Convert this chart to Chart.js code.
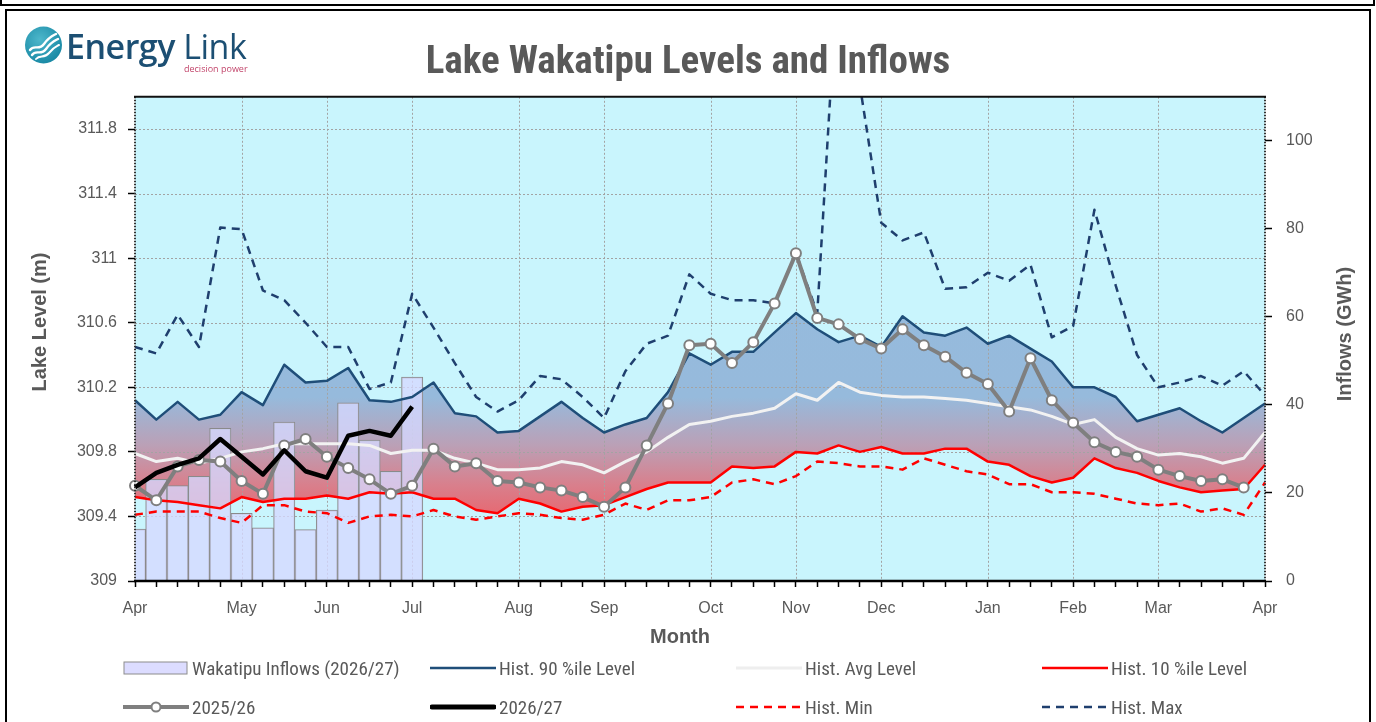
<!DOCTYPE html>
<html lang="en">
<head>
<meta charset="UTF-8">
<title>Lake Wakatipu Levels and Inflows</title>
<script src="https://cdn.jsdelivr.net/npm/chart.js@4.4.1/dist/chart.umd.min.js"></script>
<style>
  body { margin: 0; background: #fff; width: 1376px; height: 722px; overflow: hidden; position: relative; }
  .box-top { position: absolute; left: 0; top: -10px; width: 1371px; height: 12px; border: 2px solid #000; }
  .box { position: absolute; left: 5px; top: 9px; width: 1362px; height: 740px; border: 2px solid #000; }
  #chart { position: absolute; left: 0; top: 0; z-index: 2; }
  .logo { position: absolute; left: 24px; top: 25px; z-index: 3; }
  .logo-text { position: absolute; left: 66px; top: 23px; font-family: "Open Sans", sans-serif; font-size: 34px; color: #1c4f73; letter-spacing: -0.5px; white-space: nowrap; z-index: 3; }
  .logo-text b { font-weight: 600; }
  .logo-sub { position: absolute; left: 184px; top: 62px; font-family: "Open Sans", sans-serif; font-size: 9px; color: #c2456b; z-index: 3; }
  .legend-item { position: absolute; height: 20px; display: flex; align-items: center; z-index: 3;
    font-family: "Liberation Sans Narrow", "Roboto Condensed", Roboto, sans-serif; font-size: 19px; color: #595959; white-space: nowrap; }
  .legend-item svg { margin-right: 3px; flex: none; }
</style>
</head>
<body>
<div class="box-top"></div>
<div class="box"></div>

<svg class="logo" width="40" height="40" viewBox="0 0 40 40">
  <defs>
    <radialGradient id="lg" cx="40%" cy="35%" r="70%">
      <stop offset="0" stop-color="#4db7cb"/>
      <stop offset="1" stop-color="#1787a3"/>
    </radialGradient>
  </defs>
  <circle cx="19.5" cy="20" r="18.5" fill="url(#lg)"/>
  <path d="M6 25 C10 19, 15 26, 20 19 S28 11, 32 9" stroke="#fff" stroke-width="2.4" fill="none" stroke-linecap="round"/>
  <path d="M8 30 C12 24, 17 31, 22 24 S30 16, 34 14" stroke="#fff" stroke-width="2.4" fill="none" stroke-linecap="round"/>
  <path d="M12 34 C16 29, 20 34, 25 28 S31 22, 35 20" stroke="#fff" stroke-width="2" fill="none" stroke-linecap="round"/>
</svg>
<div class="logo-text"><b>Energy</b> Link</div>
<div class="logo-sub">decision power</div>

<canvas id="chart" width="1376" height="722"></canvas>

<div class="legend-item" style="left:123px;top:658px">
  <svg width="66" height="20"><rect x="1" y="4" width="63" height="12" fill="#dcdcff" stroke="#8c8c8c" stroke-width="1"/></svg>
  <span>Wakatipu Inflows (2026/27)</span>
</div>
<div class="legend-item" style="left:430px;top:658px">
  <svg width="66" height="20"><line x1="0" y1="10" x2="66" y2="10" stroke="#1f4e79" stroke-width="2.5"/></svg>
  <span>Hist. 90 %ile Level</span>
</div>
<div class="legend-item" style="left:736px;top:658px">
  <svg width="66" height="20"><line x1="0" y1="10" x2="66" y2="10" stroke="#eeeeee" stroke-width="3"/></svg>
  <span>Hist. Avg Level</span>
</div>
<div class="legend-item" style="left:1042px;top:658px">
  <svg width="66" height="20"><line x1="0" y1="10" x2="66" y2="10" stroke="#ff0000" stroke-width="2.5"/></svg>
  <span>Hist. 10 %ile Level</span>
</div>
<div class="legend-item" style="left:123px;top:697px">
  <svg width="66" height="20"><line x1="0" y1="10" x2="66" y2="10" stroke="#7f7f7f" stroke-width="4"/><circle cx="33" cy="10" r="4.5" fill="#fff" stroke="#7f7f7f" stroke-width="2"/></svg>
  <span>2025/26</span>
</div>
<div class="legend-item" style="left:430px;top:697px">
  <svg width="66" height="20"><line x1="2" y1="10" x2="64" y2="10" stroke="#000" stroke-width="5" stroke-linecap="round"/></svg>
  <span>2026/27</span>
</div>
<div class="legend-item" style="left:736px;top:697px">
  <svg width="66" height="20"><line x1="0" y1="10" x2="66" y2="10" stroke="#ff0000" stroke-width="2.5" stroke-dasharray="8 6"/></svg>
  <span>Hist. Min</span>
</div>
<div class="legend-item" style="left:1042px;top:697px">
  <svg width="66" height="20"><line x1="0" y1="10" x2="66" y2="10" stroke="#1f3f6e" stroke-width="2.5" stroke-dasharray="8 6"/></svg>
  <span>Hist. Max</span>
</div>

<script>
// weekly points, Apr to Apr
const monthNames = ['Apr', 'May', 'Jun', 'Jul', 'Aug', 'Sep', 'Oct', 'Nov', 'Dec', 'Jan', 'Feb', 'Mar', 'Apr'];
const monthWeek = [0, 5, 9, 13, 18, 22, 27, 31, 35, 40, 44, 48, 53];
const weekCount = 54;

const levelTicks = [309, 309.4, 309.8, 310.2, 310.6, 311, 311.4, 311.8];
const inflowTicks = [0, 20, 40, 60, 80, 100];

const inflows = [11.8, 23.1, 21.7, 23.8, 34.7, 15.4, 12.1, 36.1, 11.7, 16.1, 40.5, 32.0, 24.9, 46.3];

const level2627 = [309.58, 309.67, 309.72, 309.76, 309.88, 309.77, 309.66, 309.81, 309.68, 309.64, 309.90, 309.93, 309.90, 310.08];

const level2526 = [309.59, 309.50, 309.71, 309.75, 309.74, 309.62, 309.54, 309.84, 309.88, 309.77, 309.70, 309.63, 309.54, 309.59, 309.82, 309.71,
  309.73, 309.62, 309.61, 309.58, 309.56, 309.52, 309.46, 309.58, 309.84, 310.10, 310.46, 310.47, 310.35, 310.48, 310.72, 311.03, 310.63, 310.59,
  310.50, 310.44, 310.56, 310.46, 310.39, 310.29, 310.22, 310.05, 310.38, 310.12, 309.98, 309.86, 309.80, 309.77, 309.69, 309.65, 309.62, 309.63, 309.58, null];

const hist90 = [310.12, 310.00, 310.11, 310.00, 310.03, 310.17, 310.09, 310.34, 310.23, 310.24, 310.32, 310.12, 310.11, 310.14, 310.23, 310.04,
  310.02, 309.92, 309.93, 310.02, 310.11, 310.01, 309.92, 309.97, 310.01, 310.17, 310.41, 310.34, 310.42, 310.42,
  310.54, 310.66, 310.56, 310.48, 310.52, 310.45, 310.64, 310.54, 310.52, 310.57, 310.47,
  310.52, 310.44, 310.36, 310.20, 310.20, 310.14, 309.99, 310.03, 310.07, 309.99, 309.92, 310.01, 310.10];

const histAvg = [309.79, 309.74, 309.76, 309.73, 309.76, 309.80, 309.82, 309.85, 309.85, 309.85, 309.85, 309.84, 309.79, 309.81, 309.81, 309.76,
  309.73, 309.69, 309.69, 309.70, 309.74, 309.72, 309.67, 309.74, 309.80, 309.89, 309.97, 309.99, 310.02, 310.04, 310.07, 310.16, 310.12, 310.23,
  310.17, 310.15, 310.14, 310.14, 310.13, 310.12, 310.10, 310.08, 310.06, 310.02, 309.97, 310.00, 309.89, 309.82, 309.78, 309.79, 309.77, 309.73, 309.76, 309.92];

const hist10 = [309.52, 309.50, 309.49, 309.47, 309.45, 309.52, 309.49, 309.51, 309.51, 309.53, 309.51, 309.55, 309.54, 309.55, 309.51, 309.51,
  309.44, 309.42, 309.51, 309.48, 309.43, 309.46, 309.47, 309.52, 309.57, 309.61, 309.61, 309.61, 309.71, 309.70, 309.71, 309.80, 309.79, 309.84,
  309.80, 309.83, 309.79, 309.79, 309.82, 309.82, 309.74, 309.72, 309.65, 309.61, 309.64, 309.76, 309.70, 309.67, 309.62, 309.58, 309.55, 309.56, 309.57, 309.72];

const histMin = [309.41, 309.43, 309.43, 309.43, 309.39, 309.36, 309.47, 309.47, 309.43, 309.42, 309.36, 309.40, 309.41, 309.40, 309.44, 309.40,
  309.38, 309.40, 309.42, 309.41, 309.39, 309.38, 309.41, 309.48, 309.44, 309.50, 309.50, 309.52, 309.61, 309.63, 309.60, 309.65, 309.74, 309.73,
  309.71, 309.71, 309.69, 309.76, 309.72, 309.68, 309.66, 309.60, 309.60, 309.55, 309.55, 309.54, 309.51, 309.48, 309.47, 309.48, 309.43, 309.45, 309.41, 309.61];

const histMax = [310.45, 310.41, 310.65, 310.45, 311.19, 311.18, 310.80, 310.74, 310.60, 310.45, 310.45, 310.19, 310.23, 310.78, 310.57, 310.35,
  310.14, 310.05, 310.12, 310.27, 310.25, 310.14, 310.01, 310.30, 310.47, 310.52, 310.90, 310.78, 310.74, 310.74, 310.72, 311.03, 310.66, 312.87,
  312.07, 311.22, 311.11, 311.16, 310.81, 310.82, 310.91, 310.86, 310.96, 310.51, 310.58, 311.30, 310.83, 310.40, 310.20, 310.23, 310.27, 310.21, 310.30, 310.15];

const weeks = [];
for (let i = 0; i < weekCount; i++) {
  const m = monthWeek.indexOf(i);
  weeks.push(m >= 0 ? monthNames[m] : '');
}

const tickFont = { family: '"Liberation Sans", Arial, sans-serif', size: 16 };
const textGrey = '#595959';

// blue at the top of the band, red toward the bottom
function bandFill(ctx) {
  const area = ctx.chart.chartArea;
  if (!area) return '#95bbdd';
  const g = ctx.chart.ctx.createLinearGradient(0, area.top, 0, area.bottom);
  g.addColorStop(0, '#95bbdd');
  g.addColorStop(0.62, '#96badc');
  g.addColorStop(0.72, '#bba0b6');
  g.addColorStop(0.80, '#d8808d');
  g.addColorStop(0.88, '#ea636b');
  g.addColorStop(1, '#ef5560');
  return g;
}

const plotDecor = {
  id: 'plotDecor',
  beforeDraw(chart) {
    const { ctx, chartArea: a } = chart;
    ctx.save();
    ctx.fillStyle = '#c9f5fd';
    ctx.fillRect(a.left, a.top, a.right - a.left, a.bottom - a.top);
    ctx.restore();
  },
  beforeDatasetsDraw(chart) {
    // dotted grid over the band
    const { ctx, chartArea: a, scales } = chart;
    ctx.save();
    ctx.strokeStyle = '#a3a3a3';
    ctx.lineWidth = 1;
    ctx.setLineDash([2, 2]);
    ctx.beginPath();
    levelTicks.slice(1).forEach(v => {
      const py = Math.round(scales.y.getPixelForValue(v)) + 0.5;
      ctx.moveTo(a.left, py); ctx.lineTo(a.right, py);
    });
    monthWeek.slice(1, -1).forEach(i => {
      const px = Math.round(scales.x.getPixelForValue(i)) + 0.5;
      ctx.moveTo(px, a.top); ctx.lineTo(px, a.bottom);
    });
    ctx.stroke();
    ctx.restore();
  },
  afterDatasetsDraw(chart) {
    const { ctx, chartArea: a } = chart;
    ctx.save();
    ctx.strokeStyle = '#333';
    ctx.lineWidth = 2;
    ctx.setLineDash([1.5, 1.5]);
    ctx.beginPath();
    ctx.moveTo(a.left, a.top); ctx.lineTo(a.left, a.bottom);
    ctx.moveTo(a.right, a.top); ctx.lineTo(a.right, a.bottom);
    ctx.stroke();
    ctx.setLineDash([]);
    ctx.strokeStyle = '#111';
    ctx.beginPath();
    ctx.moveTo(a.left - 1, a.top); ctx.lineTo(a.right + 1, a.top);
    ctx.stroke();
    ctx.lineWidth = 2.5;
    ctx.strokeStyle = '#000';
    ctx.beginPath();
    ctx.moveTo(a.left - 1, a.bottom); ctx.lineTo(a.right + 1, a.bottom);
    ctx.stroke();
    ctx.restore();
  },
  afterDraw(chart) {
    const { ctx } = chart;
    ctx.save();
    ctx.fillStyle = textGrey;
    ctx.font = 'bold 20px "Liberation Sans", Arial, sans-serif';
    ctx.textAlign = 'center';
    ctx.textBaseline = 'middle';
    ctx.fillText('Month', 680, 637);
    ctx.translate(40, 322);
    ctx.rotate(-Math.PI / 2);
    ctx.fillText('Lake Level (m)', 0, 0);
    ctx.restore();
    ctx.save();
    ctx.fillStyle = textGrey;
    ctx.font = 'bold 20px "Liberation Sans", Arial, sans-serif';
    ctx.textAlign = 'center';
    ctx.textBaseline = 'middle';
    ctx.translate(1345, 334);
    ctx.rotate(-Math.PI / 2);
    ctx.fillText('Inflows (GWh)', 0, 0);
    ctx.restore();
  }
};

new Chart(document.getElementById('chart'), {
  type: 'line',
  data: {
    labels: weeks,
    datasets: [
      { label: '2026/27', data: level2627, borderColor: '#000', borderWidth: 4.5, order: 1 },
      { label: '2025/26', data: level2526, borderColor: '#7f7f7f', borderWidth: 4,
        pointRadius: 5, pointBackgroundColor: '#fff', pointBorderColor: '#7f7f7f', pointBorderWidth: 2, order: 2 },
      { label: 'Hist. Avg Level', data: histAvg, borderColor: '#f2f2f2', borderWidth: 3, order: 3 },
      { label: 'Hist. 90 %ile Level', data: hist90, borderColor: '#1f4e79', borderWidth: 2.5,
        fill: '+1', backgroundColor: bandFill, order: 4 },
      { label: 'Hist. 10 %ile Level', data: hist10, borderColor: '#ff0000', borderWidth: 2.5, order: 5 },
      { label: 'Hist. Min', data: histMin, borderColor: '#ff0000', borderWidth: 2.5, borderDash: [8, 6], order: 6 },
      { label: 'Hist. Max', data: histMax, borderColor: '#1f3f6e', borderWidth: 2.5, borderDash: [8, 6], order: 7 },
      { type: 'bar', label: 'Wakatipu Inflows (2026/27)', data: inflows, yAxisID: 'y1',
        backgroundColor: 'rgba(214,216,255,0.78)', borderColor: '#8a8a8a', borderWidth: 1,
        barPercentage: 1, categoryPercentage: 1, order: 10 }
    ]
  },
  options: {
    responsive: false,
    animation: false,
    events: [],
    layout: { padding: { top: 40, left: 0, right: 0, bottom: 0 } },
    elements: {
      point: { radius: 0 },
      line: { tension: 0, borderJoinStyle: 'round' }
    },
    plugins: {
      legend: { display: false },
      tooltip: { enabled: false },
      filler: { drawTime: 'beforeDatasetsDraw' },
      title: {
        display: true,
        text: 'Lake Wakatipu Levels and Inflows',
        color: textGrey,
        font: { family: '"Liberation Sans Narrow", "Roboto Condensed", Roboto, sans-serif', size: 39, weight: 'bold', lineHeight: 1.2 },
        padding: { top: 0, bottom: 10 }
      }
    },
    scales: {
      x: {
        type: 'category',
        offset: false,
        grid: { drawOnChartArea: false, offset: false, tickLength: 6, tickColor: '#000', tickWidth: 1.5 },
        border: { display: false },
        ticks: { autoSkip: false, maxRotation: 0, padding: 12, color: textGrey, font: tickFont },
        afterFit(scale) { scale.height = 141; }
      },
      y: {
        position: 'left',
        min: 309,
        max: 312,
        bounds: 'data',
        afterBuildTicks(scale) { scale.ticks = levelTicks.map(v => ({ value: v })); },
        grid: { drawOnChartArea: false, tickLength: 7, tickColor: '#000', tickWidth: 1.5 },
        border: { display: false },
        ticks: { padding: 11, color: textGrey, font: tickFont, callback: v => String(+v.toFixed(1)) },
        afterFit(scale) { scale.width = 135; }
      },
      y1: {
        position: 'right',
        min: 0,
        max: 110,
        bounds: 'data',
        afterBuildTicks(scale) { scale.ticks = inflowTicks.map(v => ({ value: v })); },
        grid: { drawOnChartArea: false, tickLength: 7, tickColor: '#000', tickWidth: 1.5 },
        border: { display: false },
        ticks: { padding: 14, color: textGrey, font: tickFont },
        afterFit(scale) { scale.width = 111; }
      }
    }
  },
  plugins: [plotDecor]
});
</script>
</body>
</html>
